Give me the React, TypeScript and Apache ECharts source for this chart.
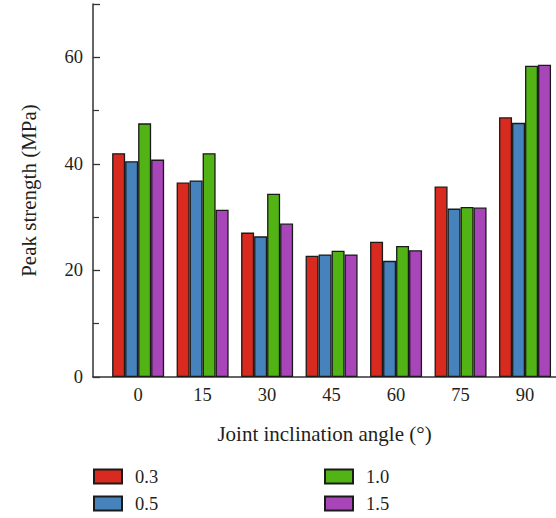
import React, { useEffect, useRef } from "react";
import * as echarts from "echarts";

const angles = [0, 15, 30, 45, 60, 75, 90];
const angleLabels = [0, 15, 30, 45, 60, 75, 90];
const seriesNames = ["0.3", "0.5", "1.0", "1.5"];
const s03 = [42.0, 36.5, 27.1, 22.75, 25.4, 35.75, 48.75];
const s05 = [40.5, 36.9, 26.4, 23.0, 21.8, 31.6, 47.7];
const s10 = [47.6, 42.0, 34.4, 23.7, 24.6, 31.9, 58.4];
const s15 = [40.8, 31.4, 28.8, 23.0, 23.8, 31.8, 58.6];
const colors = ["#d82a1f", "#4683bc", "#52b414", "#a846b9"];
const yLabels = [0, 20, 40, 60];
const yTicks = [0, 20, 40, 60, 70];

const FONT = "'Liberation Serif', 'DejaVu Serif', serif";
const TXT = "#231f20";

export default function App() {
  const ref = useRef<HTMLDivElement>(null);
  useEffect(() => {
    if (!ref.current) return;
    const chart = echarts.init(ref.current, null, { renderer: "svg" });
    const all = [s03, s05, s10, s15];
    const legendBase = {
      orient: "vertical",
      top: 467,
      padding: 0,
      itemWidth: 28,
      itemHeight: 14,
      itemGap: 8,
      icon: "rect",
      textStyle: { fontFamily: FONT, fontSize: 18.5, lineHeight: 19, color: TXT, padding: [0, 0, 0, 8] },
    };
    chart.setOption({
      animation: false,
      backgroundColor: "#ffffff",
      textStyle: { fontFamily: FONT, color: TXT },
      grid: { left: 93, right: 0, top: 4, bottom: 141, containLabel: false },
      legend: [
        { ...legendBase, data: ["0.3", "0.5"], left: 93 },
        { ...legendBase, data: ["1.0", "1.5"], left: 324 },
      ],
      xAxis: {
        type: "value",
        min: -10.5,
        max: 97.2,
        name: "Joint inclination angle (°)",
        nameLocation: "middle",
        nameGap: 46,
        nameTextStyle: { fontFamily: FONT, fontSize: 21, color: TXT },
        axisLine: { show: true, lineStyle: { color: "#333", width: 1.5 } },
        axisTick: { show: false },
        splitLine: { show: false },
        axisLabel: {
          customValues: angleLabels,
          fontFamily: FONT,
          fontSize: 18.5,
          color: TXT,
          margin: 8,
        },
      },
      yAxis: {
        type: "value",
        min: 0,
        max: 70,
        interval: 20,
        name: "Peak strength (MPa)",
        nameLocation: "middle",
        nameGap: 54,
        nameTextStyle: { fontFamily: FONT, fontSize: 21, color: TXT },
        axisLine: { show: true, onZero: false, lineStyle: { color: "#333", width: 1.5 } },
        axisTick: { show: true, inside: true, length: 7, lineStyle: { color: "#333", width: 1.3 }, customValues: yTicks },
        minorTick: { show: true, splitNumber: 2, length: 6, lineStyle: { color: "#333", width: 1.2 } },
        splitLine: { show: false },
        minorSplitLine: { show: false },
        axisLabel: { fontFamily: FONT, fontSize: 18.5, color: TXT, margin: 10, customValues: yLabels },
      },
      series: seriesNames.map((name, i) => ({
        name,
        type: "bar",
        barWidth: 13,
        barGap: "0%",
        itemStyle: { color: colors[i], borderColor: "#1a1a1a", borderWidth: 1.3 },
        data: angles.map((a, j) => [a, all[i][j]]),
      })),
    });
    return () => chart.dispose();
  }, []);
  return <div ref={ref} style={{ width: 556, height: 518, position: "absolute", left: 0, top: 0 }} />;
}
